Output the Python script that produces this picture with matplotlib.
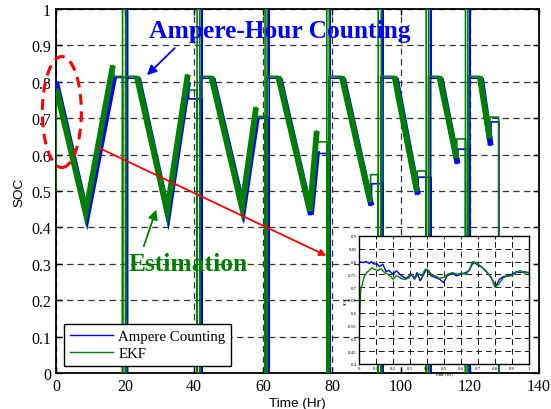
import matplotlib
matplotlib.use('Agg')
import matplotlib.pyplot as plt
from matplotlib.patches import Ellipse
from matplotlib.lines import Line2D
from matplotlib.ticker import FormatStrFormatter

plt.rcParams['font.family'] = ['Liberation Serif', 'DejaVu Serif']

BLUE = '#0000ff'
GREEN = '#008000'

# --- Ampere-hour counting (blue), one entry per discharge cycle ---
ah_start_soc = [0.80, 0.81, 0.81, 0.81, 0.81, 0.81, 0.81, 0.81]
ah_dis_t = [0.0, 23.8, 45.4, 64.8, 83.2, 98.5, 111.5, 123.2]
ah_low_t = [9.0, 32.5, 54.3, 73.9, 91.4, 104.9, 116.4, 126.0]
ah_low_soc = [0.43, 0.435, 0.45, 0.435, 0.46, 0.49, 0.575, 0.625]
ah_top_t = [16.9, 38.3, 58.2, 75.7, 91.5, 105.0, 116.5, 126.1]
ah_top_soc = [0.815, 0.80, 0.70, 0.61, 0.52, 0.538, 0.615, 0.69]
ah_rest_t = [17.1, 38.5, 58.4, 75.9, 91.5, 105.0, 116.5, 126.1]
ah_rest_soc = [0.812, 0.753, 0.70, 0.603, 0.52, 0.538, 0.615, 0.69]
ah_spike_t = [20.7, 42.3, 61.8, 79.4, 94.8, 108.6, 120.0, 128.4]

# --- EKF estimate (green) ---
ekf_init_soc = 0.50
ekf_start_soc = [0.78, 0.815, 0.815, 0.815, 0.815, 0.815, 0.815, 0.815]
ekf_dis_t = [0.1, 23.4, 45.0, 64.4, 82.8, 98.1, 111.1, 122.8]
ekf_low_t = [8.6, 32.2, 53.9, 73.6, 91.1, 104.6, 116.1, 125.7]
ekf_low_soc = [0.44, 0.445, 0.455, 0.445, 0.47, 0.50, 0.59, 0.645]
ekf_top_t = [16.5, 38.2, 58.0, 75.6, 91.2, 104.7, 116.2, 125.8]
ekf_top_soc = [0.845, 0.82, 0.73, 0.665, 0.545, 0.555, 0.643, 0.703]
ekf_rest_t = [16.8, 38.4, 58.3, 75.9, 91.2, 104.7, 116.2, 125.8]
ekf_rest_soc = [0.815, 0.777, 0.705, 0.635, 0.545, 0.555, 0.643, 0.703]
ekf_spike_t = [19.3, 40.9, 60.6, 78.5, 93.4, 107.3, 118.7, 128.3]
ekf_spike2_t = [20.2, 41.7, 61.2, 79.2, 94.3, 108.0, 119.4, None]

# --- zoomed inset (first hour) ---
inset_ah_x = [0, 0.024, 0.043, 0.059, 0.073, 0.088, 0.106, 0.12, 0.14, 0.16, 0.176, 0.2,
              0.22, 0.25, 0.278, 0.308, 0.327, 0.341, 0.361, 0.386, 0.4, 0.425, 0.45,
              0.475, 0.498, 0.518, 0.549, 0.573, 0.602, 0.627, 0.647, 0.667, 0.68, 0.7,
              0.725, 0.749, 0.773, 0.792, 0.808, 0.827, 0.851, 0.876, 0.902, 0.925,
              0.949, 0.975, 1.0]
inset_ah_soc = [0.80, 0.796, 0.80, 0.792, 0.80, 0.79, 0.792, 0.78, 0.79, 0.76, 0.766, 0.75,
                0.764, 0.744, 0.734, 0.751, 0.731, 0.757, 0.725, 0.757, 0.77, 0.744, 0.738,
                0.731, 0.718, 0.744, 0.755, 0.744, 0.751, 0.757, 0.764, 0.79, 0.796, 0.786,
                0.777, 0.76, 0.744, 0.718, 0.708, 0.731, 0.742, 0.744, 0.751, 0.76,
                0.757, 0.76, 0.757]
inset_ekf_x = [0, 0.01, 0.02, 0.03, 0.045, 0.06, 0.075, 0.09, 0.11, 0.13, 0.15, 0.17, 0.19,
               0.2, 0.22, 0.25, 0.27, 0.29, 0.31, 0.33, 0.35, 0.37, 0.39, 0.41, 0.43, 0.45,
               0.47, 0.5, 0.52, 0.55, 0.58, 0.6, 0.63, 0.65, 0.67, 0.69, 0.72, 0.75, 0.78,
               0.8, 0.82, 0.85, 0.88, 0.9, 0.93, 0.95, 0.97, 1.0]
inset_ekf_soc = [0.50, 0.69, 0.712, 0.74, 0.757, 0.765, 0.775, 0.77, 0.765, 0.772, 0.757,
                 0.75, 0.74, 0.731, 0.745, 0.734, 0.73, 0.735, 0.75, 0.735, 0.752, 0.745,
                 0.77, 0.765, 0.745, 0.744, 0.735, 0.738, 0.75, 0.757, 0.75, 0.755, 0.75,
                 0.77, 0.80, 0.795, 0.78, 0.762, 0.735, 0.70, 0.71, 0.738, 0.744, 0.745,
                 0.76, 0.765, 0.755, 0.757]


def build_trace(start_soc, dis_t, low_t, low_soc, top_t, top_soc, rest_t, rest_soc,
                spike_t, spike2_t=None, init=None):
    t, s, bands = [], [], []
    if init is not None:
        t.append(0.0)
        s.append(init)
    n = len(dis_t)
    for i in range(n):
        band_t = [dis_t[i], low_t[i]]
        band_s = [start_soc[i], low_soc[i]]
        if top_t[i] - low_t[i] > 1:
            band_t.append(top_t[i])
            band_s.append(top_soc[i])
        bands.append((band_t, band_s))
        t += [dis_t[i], low_t[i], top_t[i], rest_t[i], spike_t[i], spike_t[i]]
        s += [start_soc[i], low_soc[i], top_soc[i], rest_soc[i], rest_soc[i], 0.0]
        if i == n - 1:
            break
        t.append(spike_t[i])
        s.append(1.0)
        if spike2_t is not None:
            t += [spike2_t[i], spike2_t[i], spike2_t[i]]
            s += [1.0, 0.0, start_soc[i + 1]]
        else:
            t.append(spike_t[i])
            s.append(start_soc[i + 1])
    return t, s, bands


ah_t, ah_s, ah_bands = build_trace(ah_start_soc, ah_dis_t, ah_low_t, ah_low_soc, ah_top_t,
                                   ah_top_soc, ah_rest_t, ah_rest_soc, ah_spike_t)
ekf_t, ekf_s, ekf_bands = build_trace(ekf_start_soc, ekf_dis_t, ekf_low_t, ekf_low_soc,
                                      ekf_top_t, ekf_top_soc, ekf_rest_t, ekf_rest_soc,
                                      ekf_spike_t, ekf_spike2_t, init=ekf_init_soc)

fig = plt.figure(figsize=(5.51, 4.10), dpi=100)
ax = fig.add_axes([0.1016, 0.0878, 0.8766, 0.8878])

ax.grid(True, color='0.2', linestyle=(0, (5, 3.5)), linewidth=0.9)
ax.set_axisbelow(True)

ax.plot(ah_t, ah_s, color=BLUE, lw=1.2, zorder=3)
for bt, bs in ah_bands:
    ax.plot(bt, bs, color=BLUE, lw=4.2, zorder=3, solid_joinstyle='miter',
            solid_capstyle='butt')
ax.plot(ekf_t, ekf_s, color=GREEN, lw=1.2, zorder=4)
for bt, bs in ekf_bands:
    ax.plot(bt, bs, color=GREEN, lw=4.2, zorder=4, solid_joinstyle='miter',
            solid_capstyle='butt')

ax.set_xlim(0, 140)
ax.set_ylim(0, 1)
ax.set_xticks(range(0, 141, 20))
ax.set_yticks([i / 10 for i in range(11)])
ax.yaxis.set_major_formatter(FormatStrFormatter('%g'))
ax.tick_params(direction='in', top=True, right=True, length=4, width=1, labelsize=11.5)
for sp in ax.spines.values():
    sp.set_linewidth(1.3)
ax.set_xlabel('Time (Hr)', fontfamily='Liberation Sans', fontsize=9.7, labelpad=2)
ax.set_ylabel('SOC', fontfamily='Liberation Sans', fontsize=9.7, labelpad=4)

# annotations
ax.text(64.9, 0.94, 'Ampere-Hour Counting', color=BLUE, fontsize=18.4, fontweight='bold',
        ha='center', va='center', zorder=6)
ax.annotate('', xy=(25.8, 0.813), xytext=(35.0, 0.898), zorder=6,
            arrowprops=dict(arrowstyle='-|>', color=BLUE, lw=1.3, mutation_scale=14))
ax.text(38.2, 0.30, 'Estimation', color=GREEN, fontsize=18.4, fontweight='bold',
        ha='center', va='center', zorder=6)
ax.annotate('', xy=(29.3, 0.456), xytext=(25.2, 0.341), zorder=6,
            arrowprops=dict(arrowstyle='-|>', color=GREEN, lw=1.3, mutation_scale=14))
ax.add_patch(Ellipse((1.7, 0.717), 11.3, 0.305, fill=False, ec='red', lw=2.2,
                     ls=(0, (3.5, 2.2)), clip_on=False, zorder=7))
ax.annotate('', xy=(79.1, 0.319), xytext=(11.9, 0.621), zorder=7,
            arrowprops=dict(arrowstyle='-|>', color='red', lw=1.3, mutation_scale=10))

handles = [Line2D([], [], color=BLUE, lw=1.0), Line2D([], [], color=GREEN, lw=1.0)]
leg = ax.legend(handles, ['Ampere Counting', 'EKF'], loc='lower left',
                bbox_to_anchor=(0.116, 0.105), bbox_transform=fig.transFigure,
                borderaxespad=0, fontsize=10.7, handlelength=2.9, handletextpad=0.35,
                labelspacing=0.25, borderpad=0.4, fancybox=False, edgecolor='black',
                framealpha=1)
leg.get_frame().set_linewidth(1.0)
leg.set_zorder(8)

# inset
axi = fig.add_axes([0.6515, 0.1098, 0.3085, 0.3122])
axi.grid(True, color='0.1', linestyle=(0, (6, 4)), linewidth=0.7)
axi.set_axisbelow(True)
axi.plot(inset_ah_x, inset_ah_soc, color=BLUE, lw=1.0)
axi.plot(inset_ekf_x, inset_ekf_soc, color=GREEN, lw=1.0)
axi.set_xlim(0, 1)
axi.set_ylim(0.4, 0.9)
axi.set_xticks([i / 10 for i in range(11)])
axi.set_yticks([0.4 + 0.05 * i for i in range(11)])
axi.xaxis.set_major_formatter(FormatStrFormatter('%g'))
axi.yaxis.set_major_formatter(FormatStrFormatter('%g'))
axi.tick_params(direction='in', top=True, right=True, length=2, width=0.6,
                labelsize=3.5, pad=1.5)
for sp in axi.spines.values():
    sp.set_linewidth(1.0)
axi.set_xlabel('Time (Hr)', fontsize=3.2, labelpad=0.5)
axi.set_ylabel('SOC', fontsize=3.2, labelpad=0.5)

fig.savefig('out.png', dpi=100)
